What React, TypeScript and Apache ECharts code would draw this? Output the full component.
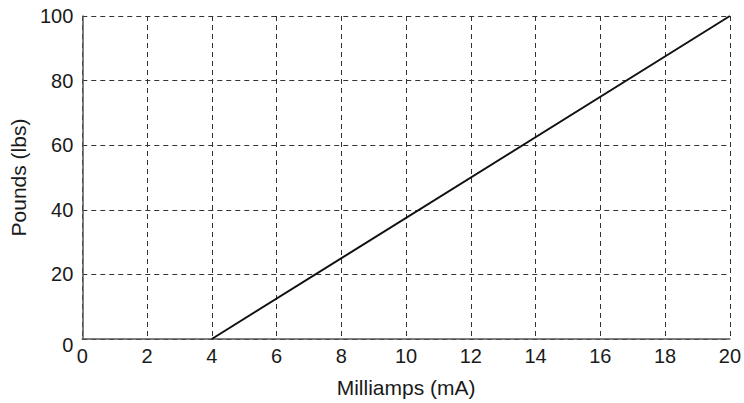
import React, { useEffect, useRef } from "react";
import * as echarts from "echarts";

const milliamps = [4, 20];
const pounds = [0, 100];
const xTicks = { min: 0, max: 20, interval: 2 };
const yTicks = { min: 0, max: 100, interval: 20 };

export default function App() {
  const ref = useRef<HTMLDivElement>(null);
  useEffect(() => {
    const chart = echarts.init(ref.current!, null, { renderer: "svg" });
    const font = "'Liberation Sans', Arial, sans-serif";
    const dashed = { show: true, lineStyle: { color: "#333", width: 1, type: [5, 4] as any } };
    chart.setOption({
      animation: false,
      backgroundColor: "#fff",
      grid: { left: 80, right: 13, top: 16, bottom: 63, containLabel: false },
      xAxis: {
        type: "value",
        min: xTicks.min,
        max: xTicks.max,
        interval: xTicks.interval,
        name: "Milliamps (mA)",
        nameLocation: "middle",
        nameGap: 38,
        nameTextStyle: { fontFamily: font, fontSize: 21, color: "#1a1a1a" },
        axisLine: { show: true, onZero: false, lineStyle: { color: "#555", width: 1.5 } },
        axisTick: { show: false },
        axisLabel: { fontFamily: font, fontSize: 20, color: "#1a1a1a", margin: 7 },
        splitLine: dashed,
      },
      yAxis: {
        type: "value",
        min: yTicks.min,
        max: yTicks.max,
        interval: yTicks.interval,
        name: "Pounds (lbs)",
        nameLocation: "middle",
        nameGap: 52,
        nameTextStyle: { fontFamily: font, fontSize: 21, color: "#1a1a1a" },
        axisLine: { show: true, onZero: false, lineStyle: { color: "#555", width: 1.5 } },
        axisTick: { show: false },
        axisLabel: {
          fontFamily: font,
          fontSize: 20,
          color: "#1a1a1a",
          margin: 9,
          formatter: (v: number) => (v === 0 ? "{low|0}" : String(v)),
          rich: { low: { fontFamily: font, fontSize: 20, color: "#1a1a1a", padding: [11, 0, 0, 0] } },
        },
        splitLine: dashed,
      },
      series: [
        {
          type: "line",
          data: milliamps.map((x, i) => [x, pounds[i]]),
          symbol: "none",
          lineStyle: { color: "#111", width: 2 },
        },
      ],
    });
    return () => chart.dispose();
  }, []);
  return <div ref={ref} style={{ width: 744, height: 403, position: "absolute", left: 0, top: 0 }} />;
}
